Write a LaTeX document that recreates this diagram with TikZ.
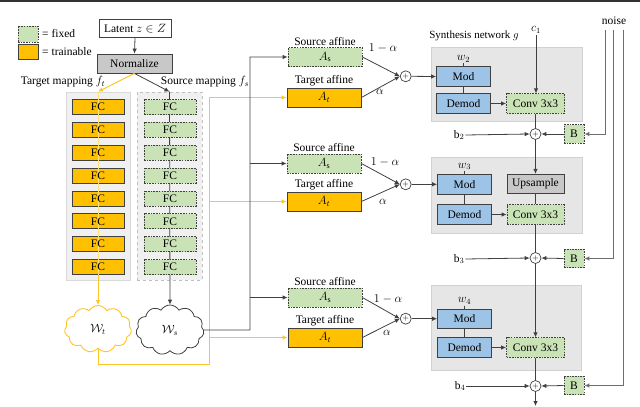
\documentclass[tikz,border=0pt]{standalone}
\usepackage{fontspec}
\setmainfont{Liberation Serif}
\usetikzlibrary{arrows.meta,shapes.symbols,positioning}
\definecolor{fixg}{HTML}{C9E3B6}
\definecolor{trainy}{HTML}{FFC000}
\definecolor{ylin}{HTML}{FFC425}
\definecolor{ylite}{HTML}{FFE27A}
\definecolor{bluem}{HTML}{9DC3E6}
\definecolor{ln}{HTML}{404040}
\definecolor{nsl}{HTML}{6E6E6E}
\definecolor{bgcol}{HTML}{F0F0F0}
\definecolor{synbg}{HTML}{E6E6E6}
\definecolor{normg}{HTML}{C8C8C8}
\tikzset{
  boxbase/.style={inner sep=0pt, line width=0.8pt, font=\fontsize{11.5}{13}\selectfont},
  fixbox/.style={boxbase, draw=ln, fill=fixg, dash pattern=on 1.6pt off 1.1pt},
  trbox/.style={boxbase, draw=ln, fill=trainy},
  bluebox/.style={boxbase, draw=ln, fill=bluem, minimum width=54pt, minimum height=19.5pt},
  graybox/.style={boxbase, draw=ln, fill=normg},
  plainbox/.style={boxbase, draw=ln, fill=white},
  lbl/.style={inner sep=1pt, font=\fontsize{11.5}{13}\selectfont},
  sumnode/.style={circle, draw=ln, fill=white, line width=0.7pt, minimum size=11pt, inner sep=0pt, font=\fontsize{8}{8}\selectfont},
  arr/.style={draw=ln, line width=0.8pt, -{Latex[length=5pt,width=4.5pt]}},
  pline/.style={draw=ln, line width=0.8pt},
  yarr/.style={draw=ylin, line width=1pt, -{Latex[length=5pt,width=4.5pt]}},
  narr/.style={draw=nsl, line width=1pt, -{Latex[length=5pt,width=4.5pt]}},
  synbox/.style={fill=synbg, draw=black!18, line width=0.6pt, inner sep=0pt},
  fctext/.style={inner sep=0pt, font=\fontsize{11.5}{13}\selectfont}
}
\begin{document}
\begin{tikzpicture}[x=1pt,y=-1pt]
\path[use as bounding box] (0,0) rectangle (640,407);
\fill[black!80] (0,0) rectangle (640,1.5);

% legend
\node[fixbox, minimum width=20pt, minimum height=16pt] (lgf) at (28,34) {};
\node[trbox, minimum width=20pt, minimum height=15pt] (lgt) at (28,51.5) {};
\node[lbl, anchor=west] (lgft) at (41,34) {= fixed};
\node[lbl, anchor=west] (lgtt) at (41,51.5) {= trainable};

% latent and normalize
\node[plainbox, minimum width=72pt, minimum height=18pt] (lat) at (135,28.5) {Latent $z\in Z$};
\node[graybox, minimum width=75pt, minimum height=19pt] (norm) at (134.5,63.5) {Normalize};
\draw[arr] (lat.south) -- (norm.north);

% mapping labels
\node[lbl] (tml) at (63,82) {Target mapping $f_t$};
\node[lbl] (sml) at (205,82) {Source mapping $f_s$};

% mapping column backgrounds
\node[fill=bgcol, draw=black!15, line width=0.6pt, minimum width=64pt, minimum height=188pt, inner sep=0] (tbg) at (98,186) {};
\node[fill=bgcol, draw=black!25, dashed, line width=0.6pt, minimum width=65pt, minimum height=188pt, inner sep=0] (sbg) at (169.5,186) {};

% clouds
\node[cloud, cloud puffs=11, cloud puff arc=120, aspect=1.4, draw=ylin, line width=0.9pt, fill=white, minimum width=67pt, minimum height=47pt, inner sep=0pt, font=\fontsize{12}{13}\selectfont] (wt) at (98,329) {$\mathcal{W}_t$};
\node[cloud, cloud puffs=11, cloud puff arc=120, aspect=1.4, draw=ln, line width=0.8pt, fill=white, minimum width=68pt, minimum height=50pt, inner sep=0pt, font=\fontsize{12}{13}\selectfont] (ws) at (170,330) {$\mathcal{W}_s$};

% source mapping arrows behind boxes
\draw[arr] (norm.south) -- (sbg.north);
\draw[arr] (sbg.north) -- (ws.north);

% FC boxes
\foreach \i in {0,...,7}{
  \pgfmathsetmacro{\yy}{107+22.857*\i}
  \node[trbox, minimum width=52pt, minimum height=15pt] (tfc\i) at (98,\yy) {};
  \node[fixbox, minimum width=52pt, minimum height=15pt] (sfc\i) at (170,\yy) {FC};
}
% target line on top of boxes, texts above it
\draw[yarr] (norm.south) -- (tbg.north);
\draw[draw=ylite, line width=0.7pt] (tbg.north) -- (tfc7.south);
\draw[yarr] (tfc7.south) -- (wt.north);
\foreach \i in {0,...,7}{
  \node[fctext] (tfct\i) at (tfc\i) {FC};
}

% affine boxes
\node[fixbox, minimum width=74pt, minimum height=19pt] (as1) at (325,57) {$A_\mathrm{s}$};
\node[trbox, minimum width=74pt, minimum height=19pt] (at1) at (324,97.5) {$A_t$};
\node[fixbox, minimum width=74pt, minimum height=19pt] (as2) at (324,163.5) {$A_\mathrm{s}$};
\node[trbox, minimum width=74pt, minimum height=19pt] (at2) at (324,201.5) {$A_t$};
\node[fixbox, minimum width=74pt, minimum height=19pt] (as3) at (325,297.5) {$A_\mathrm{s}$};
\node[trbox, minimum width=74pt, minimum height=19pt] (at3) at (325,337.5) {$A_t$};
\foreach \k in {1,2,3}{
  \node[lbl, above=0.5pt of as\k] (asl\k) {Source affine};
  \node[lbl, above=0pt of at\k] (atl\k) {Target affine};
}

% routing
\coordinate (yc) at (209,364);
\draw[yarr] (wt.south) |- (yc) -- (yc |- at1) -- (at1.west);
\draw[yarr] (yc |- at2) -- (at2.west);
\draw[yarr] (yc |- at3) -- (at3.west);
\coordinate (bc) at (250,330);
\draw[arr] (ws.east) -- (bc) -- (bc |- as1) -- (as1.west);
\draw[arr] (bc |- as2) -- (as2.west);
\draw[arr] (bc |- as3) -- (as3.west);

% sums for mixing
\node[sumnode] (s1) at (405.7,76.3) {$+$};
\node[sumnode] (s2) at (405.7,184.3) {$+$};
\node[sumnode] (s3) at (405.7,318.7) {$+$};
\foreach \k in {1,2,3}{
  \draw[arr] (as\k.east) -- (s\k.west);
  \draw[arr] (at\k.east) -- (s\k.west);
}
\node[lbl] (oa1) at (383,48) {$1-\alpha$};
\node[lbl] (al1) at (380,92) {$\alpha$};
\node[lbl] (oa2) at (385,162) {$1-\alpha$};
\node[lbl] (al2) at (383,202) {$\alpha$};
\node[lbl] (oa3) at (388,299) {$1-\alpha$};
\node[lbl] (al3) at (387,333) {$\alpha$};

% synthesis backgrounds
\node[synbox, minimum width=151pt, minimum height=74pt] (g1) at (506.5,84) {};
\node[synbox, minimum width=151pt, minimum height=76pt] (g2) at (506.5,195) {};
\node[synbox, minimum width=150pt, minimum height=85pt] (g3) at (506,327.5) {};
\node[lbl, font=\fontsize{11}{13}\selectfont] (synl) at (474,36) {Synthesis network $g$};
\node[lbl] (noisel) at (614,21) {noise};
\node[lbl] (c1) at (536,30) {$c_1$};

% block 1
\node[bluebox] (mod1) at (463.5,76.5) {Mod};
\node[bluebox] (dem1) at (463.5,103.5) {Demod};
\node[fixbox, minimum width=58pt, minimum height=19.5pt] (cv1) at (535.5,103.5) {Conv 3x3};
\node[lbl, above=3pt of mod1] (w2) {$w_2$};
\draw[pline] (w2.south) -- (mod1.north);
\draw[pline] (mod1.south) -- (dem1.north);
\draw[arr] (dem1.east) -- (cv1.west);
\draw[arr] (s1.east) -- (mod1.west);
\draw[arr] (c1.south) -- (c1 |- cv1.north);

% block 2
\node[bluebox] (mod2) at (464.5,184.3) {Mod};
\node[bluebox] (dem2) at (464.5,214.5) {Demod};
\node[graybox, minimum width=57pt, minimum height=19.5pt] (up2) at (535.5,184) {Upsample};
\node[fixbox, minimum width=57pt, minimum height=19.5pt] (cv2) at (535.5,214.5) {Conv 3x3};
\node[lbl, above=3pt of mod2] (w3) {$w_3$};
\draw[pline] (w3.south) -- (mod2.north);
\draw[pline] (mod2.south) -- (dem2.north);
\draw[pline] (up2.south) -- (cv2.north);
\draw[arr] (dem2.east) -- (cv2.west);
\draw[arr] (s2.east) -- (mod2.west);

% block 3
\node[bluebox] (mod3) at (464.5,318.7) {Mod};
\node[bluebox] (dem3) at (464.5,347.5) {Demod};
\node[fixbox, minimum width=58pt, minimum height=19.5pt] (cv3) at (535.5,347.5) {Conv 3x3};
\node[lbl, above=3pt of mod3] (w4) {$w_4$};
\draw[pline] (w4.south) -- (mod3.north);
\draw[pline] (mod3.south) -- (dem3.north);
\draw[arr] (dem3.east) -- (cv3.west);
\draw[arr] (s3.east) -- (mod3.west);

% main path sums
\node[sumnode] (p1) at (535.5,134) {$+$};
\node[sumnode] (p2) at (535.5,258) {$+$};
\node[sumnode] (p3) at (535.5,386) {$+$};
\node[fixbox, minimum width=20pt, minimum height=18.5pt] (bb1) at (574,134) {B};
\node[fixbox, minimum width=20pt, minimum height=18.5pt] (bb2) at (574,258.5) {B};
\node[fixbox, minimum width=20pt, minimum height=18.5pt] (bb3) at (574,385.5) {B};
\node[lbl] (b2) at (459,135) {b$_2$};
\node[lbl] (b3) at (459,259) {b$_3$};
\node[lbl] (b4) at (460,386) {b$_4$};
\draw[pline] (cv1.south) -- (p1.north);
\draw[arr] (p1.south) -- (up2.north);
\draw[pline] (cv2.south) -- (p2.north);
\draw[arr] (p2.south) -- (cv3.north);
\draw[pline] (cv3.south) -- (p3.north);
\coordinate (out) at (535.5,406);
\draw[arr] (p3.south) -- (out);
\foreach \k/\b in {1/b2,2/b3,3/b4}{
  \draw[arr] (\b.east) -- (p\k.west);
  \draw[arr] (bb\k.west) -- (p\k.east);
}
% noise lines
\coordinate (n1) at (605,30);
\coordinate (n2) at (613,30);
\coordinate (n3) at (623,30);
\draw[narr] (n1) |- (bb1.east);
\draw[narr] (n2) |- (bb2.east);
\draw[narr] (n3) |- (bb3.east);
\end{tikzpicture}
\end{document}
